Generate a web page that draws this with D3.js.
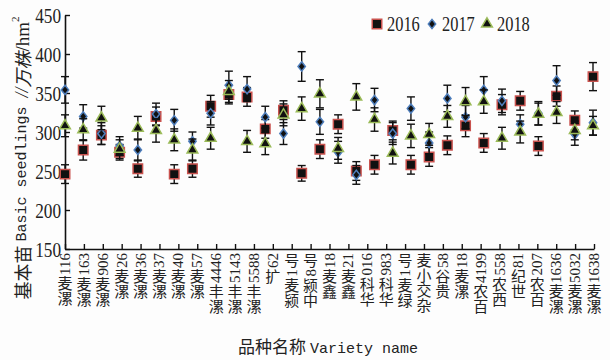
<!DOCTYPE html>
<html>
<head>
<meta charset="utf-8">
<script src="https://cdn.jsdelivr.net/npm/d3@7"></script>
<style>
  html, body { margin: 0; padding: 0; background: #fff; }
  svg { display: block; }
</style>
</head>
<body>
<div id="chart"></div>
<script>
// axis labels (29 varieties as printed under the axis)
const categories = ['漯麦116', '漯麦163', '漯麦906', '漯麦26', '漯麦36', '漯麦37', '漯麦40', '漯麦57',
  '漯丰4446', '漯丰5143', '漯丰5588', '扩62', '颍麦1号', '中颍8号', '鑫麦18', '鑫麦21', '华科016',
  '华科983', '绿麦1号', '杂交小麦', '贵谷58', '漯麦18', '百农4199', '西农558', '世纪81', '百农207',
  '漯麦1636', '漯麦5032', '漯麦1638'];
const yTicks = [150, 200, 250, 300, 350, 400, 450];
const years = ['2016', '2017', '2018'];

// plotted points (30 columns of markers in the figure)
const v2016 = [246, 277, 296, 274, 253, 320, 246, 253, 333, 348, 345, 304, 328, 247, 278, 310, 250, 258, 302, 258,
  268, 283, 308, 286, 335, 340, 282, 346, 315, 371];
const v2017 = [354, 320, 298, 282, 277, 323, 315, 288, 324, 360, 355, 319, 298, 384, 313, 274, 245, 341, 298, 330,
  286, 343, 319, 354, 340, 310, 324, 366, 297, 312];
const v2018 = [308, 303, 318, 278, 305, 302, 290, 277, 292, 352, 288, 285, 322, 330, 349, 279, 345, 316, 273, 295,
  297, 320, 339, 339, 292, 300, 323, 325, 302, 308];
const e2016 = [12, 13, 12, 10, 11, 12, 12, 11, 14, 12, 12, 12, 12, 10, 12, 12, 12, 12, 12, 12,
  12, 12, 14, 12, 13, 12, 12, 13, 12, 18];
const e2017 = [17, 15, 14, 12, 14, 14, 14, 12, 15, 18, 16, 14, 14, 19, 16, 14, 12, 15, 14, 15,
  14, 17, 15, 17, 15, 12, 15, 19, 14, 16];
const e2018 = [14, 14, 15, 12, 15, 15, 14, 14, 14, 14, 14, 14, 14, 15, 18, 14, 17, 15, 14, 15,
  14, 14, 18, 15, 14, 14, 14, 14, 12, 12];

const width = 610;
const height = 360;
const SERIF = "'Liberation Serif','Times New Roman',serif";
const CJK = "'Noto Sans CJK SC','Noto Sans CJK JP',sans-serif";
const MONO = "'Liberation Mono','DejaVu Sans Mono',monospace";

const svg = d3.select('#chart').append('svg')
  .attr('width', width)
  .attr('height', height);

svg.append('rect').attr('width', width).attr('height', height).attr('fill', '#fdfdfd');

const y = d3.scaleLinear().domain([150, 450]).range([249, 15]);
const xCat = d3.scalePoint().domain(categories).range([65, 594]);
const xPt = d3.scalePoint().domain(d3.range(v2016.length)).range([65, 593]);

// y axis, ticks pointing inward
const yAxis = svg.append('g')
  .attr('transform', 'translate(65,0)')
  .call(d3.axisLeft(y).tickValues(yTicks).tickSizeInner(-5).tickSizeOuter(0).tickPadding(4));
yAxis.select('.domain').attr('stroke', '#111').attr('stroke-width', 1.6);
yAxis.selectAll('.tick line').attr('stroke', '#111').attr('stroke-width', 1.4);
yAxis.selectAll('.tick text')
  .attr('font-family', SERIF)
  .attr('font-size', 21)
  .attr('fill', '#222')
  .attr('dy', '0.34em');

// x axis
const xAxis = svg.append('g')
  .attr('transform', 'translate(0,249)')
  .call(d3.axisBottom(xCat).tickSizeInner(-5).tickSizeOuter(0).tickFormat(''));
xAxis.select('.domain').attr('stroke', '#111').attr('stroke-width', 1.6);
xAxis.selectAll('.tick line').attr('stroke', '#111').attr('stroke-width', 1.4);

// vertical category labels: CJK upright, digits turned sideways, reading bottom to top
const CJK_SIZE = 15;
const labelG = svg.append('g');
categories.forEach(name => {
  const g = labelG.append('g').attr('transform', `translate(${xCat(name)},253)`);
  const runs = name.match(/[A-Za-z0-9]+|[^A-Za-z0-9]+/g);
  let cursor = 0;
  runs.slice().reverse().forEach(run => {
    if (/^[A-Za-z0-9]+$/.test(run)) {
      const t = g.append('text')
        .attr('font-family', SERIF)
        .attr('font-size', 15)
        .attr('fill', '#222')
        .attr('text-anchor', 'end')
        .attr('dominant-baseline', 'central')
        .text(run);
      const w = t.node().getComputedTextLength();
      t.attr('transform', `translate(0,${cursor}) rotate(-90)`);
      cursor += w + 1;
    } else {
      const chars = Array.from(run).reverse().join('');
      g.append('text')
        .attr('font-family', CJK)
        .attr('font-size', CJK_SIZE)
        .attr('fill', '#222')
        .style('writing-mode', 'vertical-rl')
        .attr('x', 0)
        .attr('y', cursor)
        .text(chars);
      cursor += chars.length * CJK_SIZE + 1;
    }
  });
});

// axis titles
const yTitle = svg.append('text')
  .attr('transform', 'translate(22,158) rotate(-90)')
  .attr('text-anchor', 'middle')
  .attr('dominant-baseline', 'central')
  .attr('fill', '#222');
yTitle.append('tspan').attr('font-family', CJK).attr('font-size', 18).text('基本苗 ');
yTitle.append('tspan').attr('font-family', MONO).attr('font-size', 15).text('Basic seedlings ');
yTitle.append('tspan').attr('font-family', SERIF).attr('font-size', 18).attr('font-style', 'italic').text('//');
yTitle.append('tspan').attr('font-family', CJK).attr('font-size', 18).attr('font-style', 'italic').text('万株');
yTitle.append('tspan').attr('font-family', SERIF).attr('font-size', 19).text('/hm');
yTitle.append('tspan').attr('font-family', SERIF).attr('font-size', 11).attr('dy', -7).text('2');

const xTitle = svg.append('text')
  .attr('x', 328)
  .attr('y', 353)
  .attr('text-anchor', 'middle')
  .attr('fill', '#222');
xTitle.append('tspan').attr('font-family', CJK).attr('font-size', 17).text('品种名称 ');
xTitle.append('tspan').attr('font-family', MONO).attr('font-size', 15).text('Variety name');

// markers
const diamond = {
  draw(ctx, size) {
    const r = Math.sqrt(size) / 2;
    ctx.moveTo(0, -r * 1.2);
    ctx.lineTo(r * 0.95, 0);
    ctx.lineTo(0, r * 1.2);
    ctx.lineTo(-r * 0.95, 0);
    ctx.closePath();
  }
};
const seriesList = [
  { name: years[0], values: v2016, errors: e2016, symbol: d3.symbol(d3.symbolSquare, 90), stroke: '#c9524e' },
  { name: years[1], values: v2017, errors: e2017, symbol: d3.symbol(diamond, 60), stroke: '#4f7fbd' },
  { name: years[2], values: v2018, errors: e2018, symbol: d3.symbol(d3.symbolTriangle, 50), stroke: '#9bbb59' }
];

seriesList.forEach(s => {
  const g = svg.append('g');
  const pts = s.values.map((v, i) => ({ i, v, e: s.errors[i] }));
  const bars = g.selectAll('g.err').data(pts).enter().append('g')
    .attr('stroke', '#111')
    .attr('stroke-width', 1.4);
  bars.append('line')
    .attr('x1', d => xPt(d.i)).attr('x2', d => xPt(d.i))
    .attr('y1', d => y(d.v - d.e)).attr('y2', d => y(d.v + d.e));
  bars.append('line')
    .attr('x1', d => xPt(d.i) - 4).attr('x2', d => xPt(d.i) + 4)
    .attr('y1', d => y(d.v + d.e)).attr('y2', d => y(d.v + d.e));
  bars.append('line')
    .attr('x1', d => xPt(d.i) - 4).attr('x2', d => xPt(d.i) + 4)
    .attr('y1', d => y(d.v - d.e)).attr('y2', d => y(d.v - d.e));
  g.selectAll('path').data(pts).enter().append('path')
    .attr('d', s.symbol)
    .attr('transform', d => `translate(${xPt(d.i)},${y(d.v)})`)
    .attr('fill', '#111')
    .attr('stroke', s.stroke)
    .attr('stroke-width', 1.5);
});

// legend
const legendX = d3.scalePoint().domain(years).range([377, 487]);
const legend = svg.append('g').selectAll('g').data(seriesList).enter().append('g')
  .attr('transform', d => `translate(${legendX(d.name)},24)`);
legend.append('path')
  .attr('d', d => d.symbol())
  .attr('fill', '#111')
  .attr('stroke', d => d.stroke)
  .attr('stroke-width', 1.5);
legend.append('text')
  .attr('x', 10)
  .attr('dy', '0.35em')
  .attr('font-family', SERIF)
  .attr('font-size', 20)
  .attr('fill', '#222')
  .text(d => d.name);

// narrow the numerals like the printed figure
svg.selectAll('g.tick text').each(function () {
  const w = this.getComputedTextLength();
  d3.select(this).attr('textLength', w * 0.82).attr('lengthAdjust', 'spacingAndGlyphs');
});
legend.selectAll('text').each(function () {
  const w = this.getComputedTextLength();
  d3.select(this).attr('textLength', w * 0.82).attr('lengthAdjust', 'spacingAndGlyphs');
});
</script>
</body>
</html>
